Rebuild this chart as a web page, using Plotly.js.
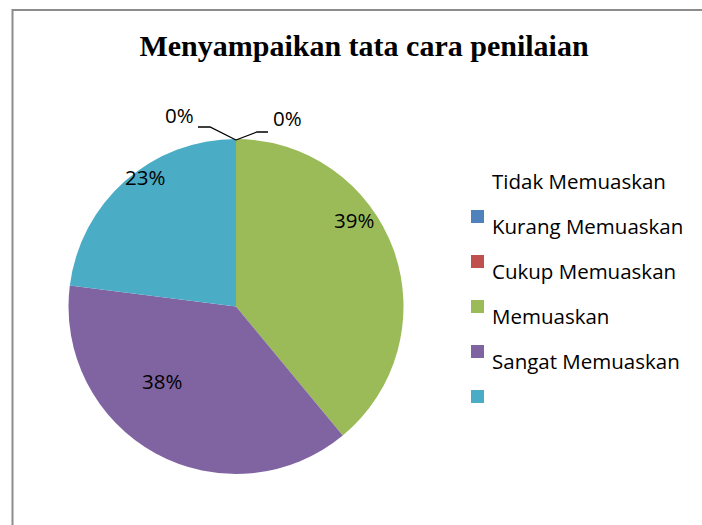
<!DOCTYPE html>
<html>
<head>
<meta charset="utf-8">
<script src="https://cdn.plot.ly/plotly-3.0.1.min.js"></script>
<style>
html,body{margin:0;padding:0;background:#fff;}
#chart{width:702px;height:525px;}
</style>
</head>
<body>
<div id="chart"></div>
<script>
// ---- data ----
var sliceLabels = ["Tidak Memuaskan", "Kurang Memuaskan", "Cukup Memuaskan", "Memuaskan", "Sangat Memuaskan"];
var sliceValues = [0, 0, 39, 38, 23];
var sliceColors = ["#4F81BD", "#C0504D", "#9BBB59", "#8064A2", "#4BACC6"];
var legendTexts = ["Tidak Memuaskan", "Kurang Memuaskan", "Cukup Memuaskan", "Memuaskan", "Sangat Memuaskan", ""];
var titleText = "Menyampaikan tata cara penilaian";

// label anchor spots (pixels) for each slice's data label, as Excel placed them
var labelSpots = [[180, 115], [287, 118], [354, 220], [162, 381], [145, 177]];

var W = 702, H = 525;
function px(x){ return x / W; }
function py(y){ return 1 - y / H; }

var labelFont = {family: "Open Sans, Noto Sans, sans-serif", size: 20.5, color: "#000"};

var total = sliceValues.reduce(function(a, b){ return a + b; }, 0);

var trace = {
  type: "pie",
  labels: sliceLabels,
  values: sliceValues,
  marker: {colors: sliceColors, line: {width: 0}},
  sort: false,
  direction: "clockwise",
  rotation: 0,
  textinfo: "none",
  showlegend: false,
  hoverinfo: "label+percent",
  domain: {x: [px(68), px(404)], y: [py(474), py(139)]}
};

var shapes = [];
var annotations = [];

// frame
shapes.push({type: "line", xref: "paper", yref: "paper", x0: px(12.5), x1: px(702), y0: py(10), y1: py(10), line: {color: "#8c8c8c", width: 2}});
shapes.push({type: "line", xref: "paper", yref: "paper", x0: px(12.5), x1: px(12.5), y0: py(9), y1: py(525), line: {color: "#8c8c8c", width: 2}});

// leader lines for the zero slices
shapes.push({type: "path", xref: "paper", yref: "paper",
  path: "M " + px(236) + " " + py(140) + " L " + px(210) + " " + py(127) + " L " + px(198) + " " + py(127),
  line: {color: "#000", width: 1.3}});
shapes.push({type: "path", xref: "paper", yref: "paper",
  path: "M " + px(236) + " " + py(140) + " L " + px(257) + " " + py(132) + " L " + px(268) + " " + py(132),
  line: {color: "#000", width: 1.3}});

// data labels (percentages computed from the values)
for (var k = 0; k < sliceValues.length; k++) {
  var pct = Math.round(sliceValues[k] / total * 100) + "%";
  annotations.push({xref: "paper", yref: "paper", x: px(labelSpots[k][0]), y: py(labelSpots[k][1]),
    text: pct, showarrow: false, font: labelFont, xanchor: "center", yanchor: "middle"});
}

// legend (Excel style, labels shifted by one row)
var rowGap = 45;
for (var i = 0; i < sliceColors.length; i++) {
  var cy = 216.5 + rowGap * i;
  shapes.push({type: "rect", xref: "paper", yref: "paper",
    x0: px(471), x1: px(484), y0: py(cy - 6.5), y1: py(cy + 6.5),
    fillcolor: sliceColors[i], line: {width: 0}});
}
for (var j = 0; j < legendTexts.length; j++) {
  if (!legendTexts[j]) continue;
  annotations.push({xref: "paper", yref: "paper", x: px(490), y: py(181 + rowGap * j),
    text: legendTexts[j], showarrow: false, font: labelFont, xanchor: "left", yanchor: "middle"});
}

var layout = {
  width: W, height: H,
  margin: {l: 0, r: 0, t: 0, b: 0},
  paper_bgcolor: "#fff",
  title: {text: "<b>" + titleText + "</b>", x: px(364), y: py(45), xref: "paper", yref: "paper", xanchor: "center", yanchor: "middle",
    font: {family: "Liberation Serif, Times New Roman, serif", size: 30, color: "#000"}},
  shapes: shapes,
  annotations: annotations,
  showlegend: false
};

Plotly.newPlot("chart", [trace], layout, {displayModeBar: false, responsive: false});
</script>
</body>
</html>
